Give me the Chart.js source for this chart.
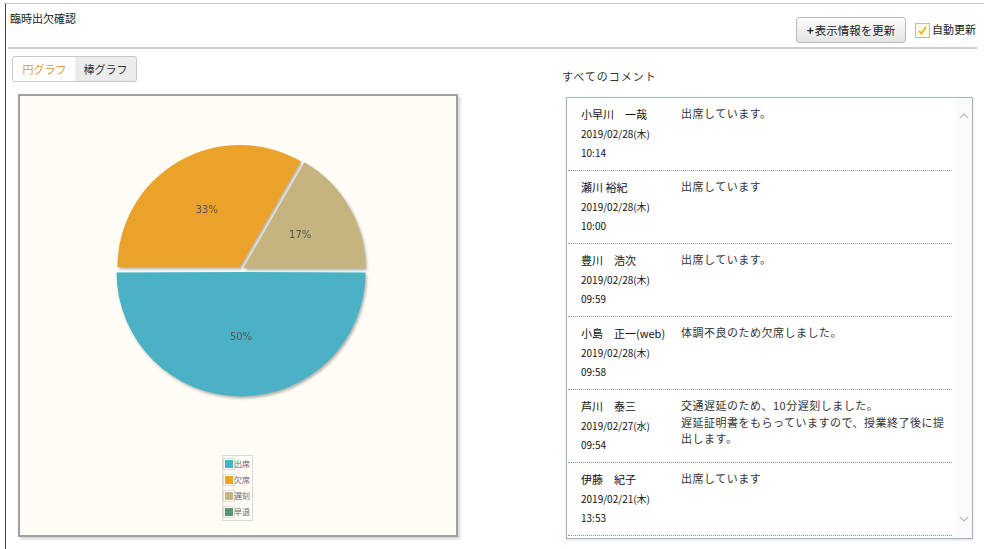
<!DOCTYPE html>
<html lang="ja">
<head>
<meta charset="utf-8">
<script src="https://cdn.jsdelivr.net/npm/chart.js@4"></script>
<style>
  body { margin: 0; width: 984px; height: 549px; overflow: hidden; background: #fff;
         font-family: "Noto Sans CJK JP", "Noto Sans", sans-serif; color: #333; position: relative; }
  .abs { position: absolute; }
  #frame { left: 5px; top: 3px; right: 0; bottom: 0; border-left: 1px solid #444; border-top: 1px solid #c8c8c8; }
  #title { left: 10px; top: 10px; font-size: 11px; color: #222; }
  #refresh { left: 796px; top: 17px; width: 108px; height: 24px; border: 1px solid #bbb; border-radius: 3px;
             background: linear-gradient(#fdfdfd, #e4e4e4); font-size: 11.5px; line-height: 24px; text-align: center; color: #222; }
  #refresh b { font-size: 12px; margin-right: 1px; }
  #chk { left: 915px; top: 23px; width: 13px; height: 13px; border: 1px solid #bbb; background: #fffbe8; }
  #chk svg { display: block; }
  #auto { left: 932px; top: 21px; font-size: 11px; color: #222; }
  #rule { left: 8px; top: 47px; width: 969px; border-top: 2px solid #cfcfcf; }
  .tab { top: 56px; height: 24px; font-size: 11px; line-height: 24px; text-align: center; border: 1px solid #c8c8c8; }
  #tab1 { left: 12px; width: 63px; background: #fff; color: #e09a30; border-radius: 3px 0 0 3px; }
  #tab2 { left: 75px; width: 61px; background: #ececec; color: #333; border-left: none; border-radius: 0 3px 3px 0; }
  #plotbox { left: 18px; top: 94px; width: 436px; height: 439px; border: 2px solid #a0a0a0; background: #fffdf6;
             box-shadow: 2px 2px 3px rgba(0,0,0,0.18); }
  #legend { left: 202px; top: 359px; border: 1px solid #d8d8d8; background: #fffdf6; font-size: 8px; color: #666; }
  #legend div { height: 16px; line-height: 16px; padding: 0 2px 0 2px; white-space: nowrap; }
  #legend span.sw { display: inline-block; width: 8px; height: 8px; margin-right: 1px; vertical-align: -1px;
                    outline: 1px solid #ddd; outline-offset: 1px; }
  #cmtTitle { left: 562px; top: 68px; font-size: 11px; letter-spacing: 1px; color: #333; }
  #panel { left: 566px; top: 97px; width: 405px; height: 440px; border: 1px solid #a8b4bc; border-top-color: #9fb4b4;
           background: #fff; overflow: hidden; box-shadow: 0 1px 2px rgba(0,0,0,0.15); }
  #scroll { right: 0; top: 0; width: 16px; height: 100%; background: #f8fafb; }
  .item { position: relative; width: 384px; height: 72px; border-bottom: 1px dotted #8a9a9a; margin-left: 1px; }
  .who { position: absolute; left: 13px; top: 7px; width: 100px; font-size: 11px; line-height: 18.5px; color: #111; }
  .who .d { font-size: 10px; }
  .msg { position: absolute; left: 113px; top: 7px; width: 275px; font-size: 11px; line-height: 16.5px; color: #333; letter-spacing: 0.5px; }
</style>
</head>
<body>
<div id="frame" class="abs"></div>
<div id="title" class="abs">臨時出欠確認</div>
<div id="refresh" class="abs"><b>+</b>表示情報を更新</div>
<div id="chk" class="abs"><svg width="13" height="13" viewBox="0 0 13 13"><path d="M3 7 L5.5 9.5 L10 3" stroke="#e6b422" stroke-width="1.8" fill="none"/></svg></div>
<div id="auto" class="abs">自動更新</div>
<div id="rule" class="abs"></div>
<div id="tab1" class="abs tab">円グラフ</div>
<div id="tab2" class="abs tab">棒グラフ</div>

<div id="plotbox" class="abs">
  <canvas id="pie" width="436" height="439"></canvas>
  <div id="legend" class="abs"></div>
</div>

<div id="cmtTitle" class="abs">すべてのコメント</div>
<div id="panel" class="abs">
  <div id="scroll" class="abs">
    <svg class="abs" style="left:3px;top:14px" width="10" height="7"><path d="M1 6 L5 2 L9 6" stroke="#c4c4c4" stroke-width="1.5" fill="none"/></svg>
    <svg class="abs" style="left:3px;top:418px" width="10" height="7"><path d="M1 1 L5 5 L9 1" stroke="#c4c4c4" stroke-width="1.5" fill="none"/></svg>
  </div>
  <div id="items"></div>
</div>

<script>
// chart data
const statusLabels = ['出席', '欠席', '遅刻', '早退'];
const statusCounts = [3, 2, 1, 0];
const statusColors = ['#4bb2c5', '#eaa228', '#c5b47f', '#579575'];

// comment list
const names = ['小早川　一哉', '瀬川 裕紀', '豊川　浩次', '小島　正一(web)', '芦川　泰三', '伊藤　紀子'];
const dates = ['2019/02/28(木)', '2019/02/28(木)', '2019/02/28(木)', '2019/02/28(木)', '2019/02/27(水)', '2019/02/21(木)'];
const times = ['10:14', '10:00', '09:59', '09:58', '09:54', '13:53'];
const messages = [
  '出席しています。',
  '出席しています',
  '出席しています。',
  '体調不良のため欠席しました。',
  '交通遅延のため、10分遅刻しました。<br>遅延証明書をもらっていますので、授業終了後に提<br>出します。',
  '出席しています'
];

// build comment items
const items = document.getElementById('items');
names.forEach((n, i) => {
  const el = document.createElement('div');
  el.className = 'item';
  el.innerHTML = `<div class="who">${n}<br><span class="d">${dates[i]}</span><br><span class="d">${times[i]}</span></div>` +
                 `<div class="msg">${messages[i]}</div>`;
  items.appendChild(el);
});

// legend table
const legend = document.getElementById('legend');
statusLabels.forEach((l, i) => {
  const row = document.createElement('div');
  row.innerHTML = `<span class="sw" style="background:${statusColors[i]}"></span>${l}`;
  legend.appendChild(row);
});

// shadow under slices (like jqPlot)
const shadowPlugin = {
  id: 'sliceShadow',
  beforeDatasetsDraw(chart) {
    const ctx = chart.ctx;
    ctx.save();
    ctx.shadowColor = 'rgba(0,0,0,0.3)';
    ctx.shadowOffsetX = 1.5;
    ctx.shadowOffsetY = 2;
    ctx.shadowBlur = 3;
  },
  afterDatasetsDraw(chart) {
    chart.ctx.restore();
  }
};

// percent labels inside slices
const percentPlugin = {
  id: 'percentLabels',
  afterDraw(chart) {
    const ctx = chart.ctx;
    const meta = chart.getDatasetMeta(0);
    const total = statusCounts.reduce((a, b) => a + b, 0);
    ctx.save();
    ctx.font = '10px "DejaVu Sans", sans-serif';
    ctx.fillStyle = '#555';
    ctx.textAlign = 'center';
    ctx.textBaseline = 'middle';
    meta.data.forEach((arc, i) => {
      if (!statusCounts[i]) return;
      const p = arc.getProps(['x', 'y', 'startAngle', 'endAngle', 'outerRadius'], true);
      const mid = (p.startAngle + p.endAngle) / 2;
      const r = p.outerRadius * 0.56;
      const txt = Math.round(statusCounts[i] / total * 100) + '%';
      ctx.fillText(txt, p.x + Math.cos(mid) * r, p.y + Math.sin(mid) * r);
    });
    ctx.restore();
  }
};

new Chart(document.getElementById('pie').getContext('2d'), {
  type: 'pie',
  data: {
    labels: statusLabels,
    datasets: [{
      data: statusCounts,
      backgroundColor: statusColors,
      borderWidth: 0,
      offset: 10
    }]
  },
  options: {
    responsive: false,
    animation: false,
    rotation: 90,
    layout: { padding: { left: 94, top: 46, right: 88, bottom: 138 } },
    plugins: {
      legend: { display: false },
      tooltip: { enabled: false }
    }
  },
  plugins: [shadowPlugin, percentPlugin]
});
</script>
</body>
</html>
